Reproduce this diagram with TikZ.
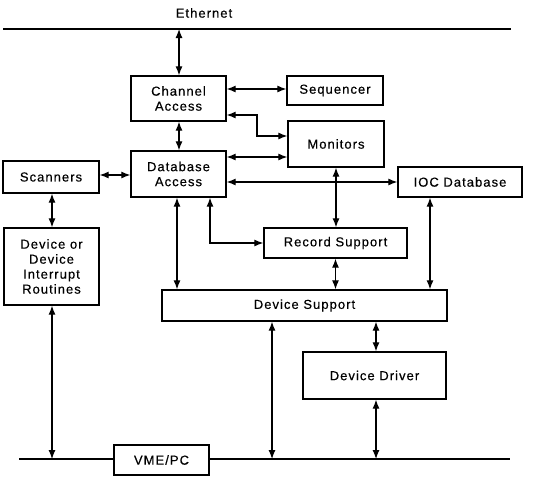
\documentclass[tikz,border=0pt]{standalone}
\usepackage{fontspec}
\setmainfont{Liberation Sans}[LetterSpace=8, FakeBold=0.4]
\usetikzlibrary{arrows.meta}
\begin{document}
\begin{tikzpicture}[x=1pt,y=-1pt,
  every node/.style={font=\fontsize{13}{15}\selectfont, align=center, inner sep=0pt},
  blk/.style={draw, line width=1.3pt, minimum width=#1},
  biarrow/.style={line width=1.2pt, {Latex[length=9pt,width=7pt]}-{Latex[length=9pt,width=7pt]}},
  bus/.style={line width=1.2pt}]
\useasboundingbox (0,0) rectangle (534,477);

% buses
\coordinate (ethL) at (3,29);
\coordinate (ethR) at (511,29);
\coordinate (busL) at (19,459);
\coordinate (busR) at (510,459);
\draw[bus] (ethL) -- (ethR);
\node (eth) at (204,13) {Ethernet};

% blocks
\node[blk=95pt, minimum height=45pt] (CA) at (178.5,98.5) {Channel\\Access};
\node[blk=96pt, minimum height=29pt] (Seq) at (335,90.5) {Sequencer};
\node[blk=96pt, minimum height=46pt] (Mon) at (336,144) {Monitors};
\node[blk=95pt, minimum height=46pt] (DA) at (178.5,174) {Database\\Access};
\node[blk=96pt, minimum height=32pt] (Scan) at (51,177) {Scanners};
\node[blk=124pt, minimum height=30pt] (IOC) at (460,182) {IOC Database};
\node[blk=143pt, minimum height=30pt] (RS) at (335.5,243) {Record Support};
\node[blk=285pt, minimum height=31pt] (DS) at (304.5,305.5) {Device Support};
\node[blk=95pt, minimum height=77pt] (DOR) at (51.5,266.5) {Device or\\Device\\Interrupt\\Routines};
\node[blk=143pt, minimum height=47pt] (DD) at (374.5,375.5) {Device Driver};

% backplane bus
\draw[bus] (busL) -- (busR);
\node[blk=95pt, minimum height=30pt, fill=white] (VME) at (161.5,460) {VME/PC};

% connections
\draw[biarrow] (ethL -| 179,0) -- (CA.north -| 179,0);
\draw[biarrow] (CA.east |- 0,89) -- (Seq.west |- 0,89);
\draw[biarrow] (CA.east |- 0,115) -- (257,115) |- (Mon.west |- 0,136);
\draw[biarrow] (CA.south -| 179,0) -- (DA.north -| 179,0);
\draw[biarrow] (DA.east |- 0,157) -- (Mon.west |- 0,157);
\draw[biarrow] (Scan.east |- 0,175) -- (DA.west |- 0,175);
\draw[biarrow] (DA.east |- IOC.west) -- (IOC.west);
\draw[biarrow] (Mon.south) -- (Mon.south |- RS.north);
\draw[biarrow] (DA.south -| 210,0) |- (RS.west);
\draw[biarrow] (DA.south -| 177,0) -- (DS.north -| 177,0);
\draw[biarrow] (RS.south) -- (RS.south |- DS.north);
\draw[biarrow] (IOC.south -| 430,0) -- (DS.north -| 430,0);
\draw[biarrow] (Scan.south -| 52,0) -- (DOR.north -| 52,0);
\draw[biarrow] (DOR.south -| 52,0) -- (busL -| 52,0);
\draw[biarrow] (DS.south -| 272,0) -- (busL -| 272,0);
\draw[biarrow] (DS.south -| 376,0) -- (DD.north -| 376,0);
\draw[biarrow] (DD.south -| 376,0) -- (busL -| 376,0);
\end{tikzpicture}
\end{document}
